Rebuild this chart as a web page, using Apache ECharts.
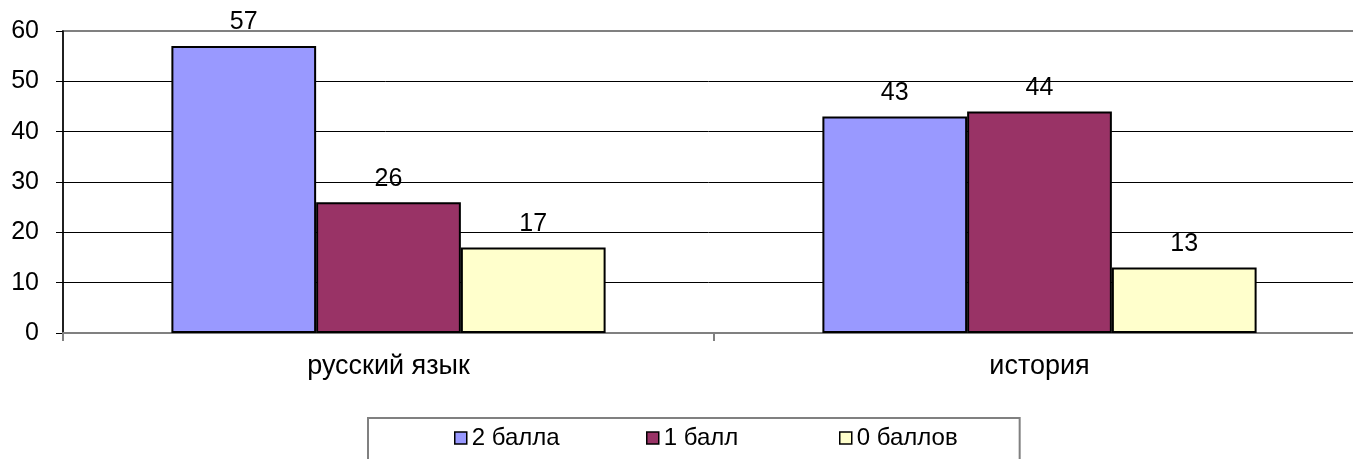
<!DOCTYPE html>
<html>
<head>
<meta charset="utf-8">
<script src="https://cdn.jsdelivr.net/npm/echarts@6/dist/echarts.min.js"></script>
<style>html,body{margin:0;padding:0;background:#fff}#c{width:1353px;height:459px}</style>
</head>
<body>
<div id="c"></div>
<script>
const categories = ['русский язык', 'история'];
const seriesNames = ['2 балла', '1 балл', '0 баллов'];
const twoPoints = [57, 43];
const onePoint = [26, 44];
const zeroPoints = [17, 13];
const yTicks = [0, 10, 20, 30, 40, 50, 60];

const colors = ['#9999FF', '#993366', '#FFFFCC'];
const font = '"Liberation Sans", Arial, sans-serif';
const values = [twoPoints, onePoint, zeroPoints];

const legendText = { fontFamily: font, fontSize: 24, color: '#000', lineHeight: 24 };
const legendCommon = {
  itemWidth: 12, itemHeight: 12, icon: 'rect',
  itemStyle: { borderColor: '#000', borderWidth: 1.5 },
  textStyle: legendText
};

const chart = echarts.init(document.getElementById('c'));
chart.setOption({
  animation: false,
  backgroundColor: '#fff',
  textStyle: { fontFamily: font },
  grid: { left: 63, width: 1302, top: 31, height: 302, containLabel: false, outerBoundsMode: 'none',
          show: true, borderColor: '#808080', borderWidth: 2, backgroundColor: 'transparent' },
  legend: [
    Object.assign({}, legendCommon, {
      left: 368, top: 418,
      padding: [8, 460, 40, 86],
      borderColor: '#808080', borderWidth: 2,
      data: [seriesNames[0]]
    }),
    Object.assign({}, legendCommon, { left: 646, top: 426, padding: 0, data: [seriesNames[1]] }),
    Object.assign({}, legendCommon, { left: 839, top: 426, padding: 0, data: [seriesNames[2]] })
  ],
  xAxis: {
    type: 'category', data: categories,
    axisLine: { lineStyle: { color: '#808080', width: 2 } },
    axisTick: { show: true, length: 8, lineStyle: { color: '#808080', width: 2 } },
    axisLabel: { fontFamily: font, fontSize: 27, color: '#000', margin: 20 },
    splitLine: { show: false }
  },
  yAxis: {
    type: 'value', min: yTicks[0], max: yTicks[yTicks.length - 1], interval: 10,
    axisLine: { show: true, lineStyle: { color: '#000', width: 1.5 } },
    axisTick: { show: true, length: 7, lineStyle: { color: '#000', width: 1 } },
    axisLabel: { fontFamily: font, fontSize: 25, color: '#000', margin: 24 },
    splitLine: { show: true, showMaxLine: false, lineStyle: { color: '#000', width: 1 } }
  },
  series: seriesNames.map((name, i) => ({
    name, type: 'bar', data: values[i],
    barGap: '0%', barCategoryGap: '33.3%',
    itemStyle: { color: colors[i], borderColor: '#000', borderWidth: 2 },
    label: { show: true, position: 'top', distance: 11, fontFamily: font, fontSize: 25, color: '#000' }
  }))
});
</script>
</body>
</html>
